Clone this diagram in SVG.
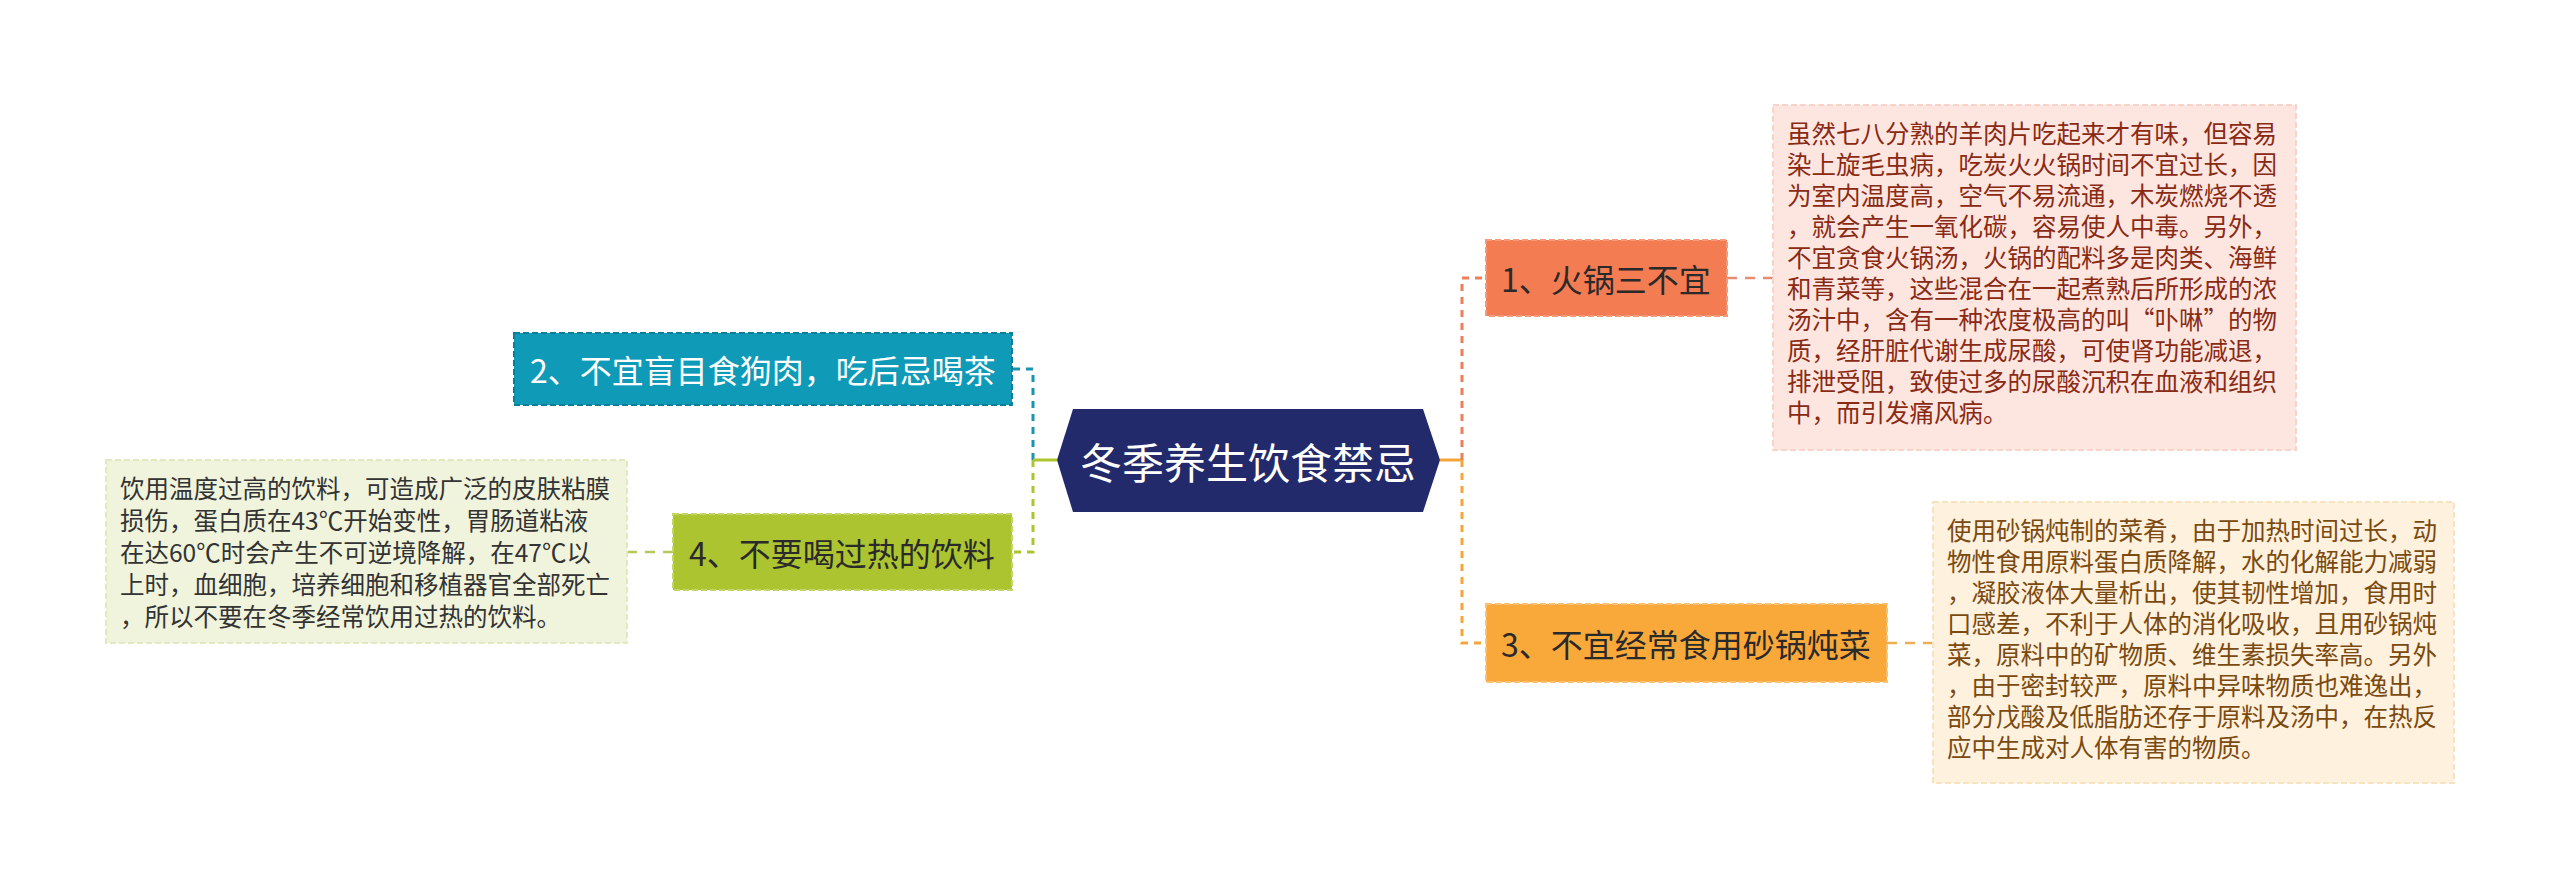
<svg xmlns="http://www.w3.org/2000/svg" width="2560" height="889" viewBox="0 0 2560 889">
<style>
.t{font-family:"Noto Sans CJK SC","Noto Sans",sans-serif}
.lbl{font-size:32px;text-anchor:middle;dominant-baseline:central}
.det{font-size:24.5px}
.c{fill:none;stroke-width:3}
.d{stroke-dasharray:7 6}
.ld{stroke-dasharray:10 8;stroke-width:2.5}
</style>
<rect width="2560" height="889" fill="#ffffff"/>
<g id="connectors">
  <path class="c d" d="M1033,460 V369 H1012" stroke="#1a93b0"/>
  <path class="c" d="M1057,460 H1033" stroke="#abc430"/>
  <path class="c d" d="M1033,460 V552 H1012" stroke="#abc430"/>
  <path class="c ld" d="M673,552 H627" stroke="#b5c95a"/>
  <path class="c" d="M1440,460 H1462" stroke="#f6a53a"/>
  <path class="c d" d="M1462,460 V278 H1486" stroke="#ee7d5a"/>
  <path class="c d" d="M1462,460 V643 H1486" stroke="#f6a53a"/>
  <path class="c ld" d="M1727,278 H1773" stroke="#e48d72"/>
  <path class="c ld" d="M1887,643 H1933" stroke="#f0ae54"/>
</g>
<g id="root">
  <polygon points="1057,460 1073,409 1423,409 1440,460 1423,512 1073,512" fill="#232a6b"/>
  <text class="t" x="1248" y="460" font-size="42" fill="#ffffff" text-anchor="middle" dominant-baseline="central">冬季养生饮食禁忌</text>
</g>
<g id="n2">
  <rect x="514" y="333" width="498" height="72" fill="#0f9ab8" stroke="#0b7f99" stroke-width="2" stroke-dasharray="6 3"/>
  <text class="t lbl" x="763" y="369" fill="#ffffff">2、不宜盲目食狗肉，吃后忌喝茶</text>
</g>
<g id="n4">
  <rect x="673" y="514" width="339" height="76" fill="#abc430" stroke="#c3d46a" stroke-width="2" stroke-dasharray="6 3"/>
  <text class="t lbl" x="842" y="552" fill="#2a2a2a">4、不要喝过热的饮料</text>
</g>
<g id="n4d">
  <rect x="106" y="460" width="521" height="183" fill="#f1f4dc" stroke="#e2e8c0" stroke-width="2" stroke-dasharray="6 3"/>
  <text class="t det" fill="#333333">
    <tspan x="120" y="498">饮用温度过高的饮料，可造成广泛的皮肤粘膜</tspan>
    <tspan x="120" y="530">损伤，蛋白质在43℃开始变性，胃肠道粘液</tspan>
    <tspan x="120" y="562">在达60℃时会产生不可逆境降解，在47℃以</tspan>
    <tspan x="120" y="594">上时，血细胞，培养细胞和移植器官全部死亡</tspan>
    <tspan x="120" y="626">，所以不要在冬季经常饮用过热的饮料。</tspan>
  </text>
</g>
<g id="n1">
  <rect x="1486" y="240" width="241" height="76" fill="#f47c52" stroke="#f59a7a" stroke-width="2" stroke-dasharray="6 3"/>
  <text class="t lbl" x="1606" y="278" fill="#2a2a2a">1、火锅三不宜</text>
</g>
<g id="n1d">
  <rect x="1773" y="105" width="523" height="345" fill="#fde6e0" stroke="#f7d3c8" stroke-width="2" stroke-dasharray="6 3"/>
  <text class="t det" fill="#8a2a14">
    <tspan x="1787" y="143">虽然七八分熟的羊肉片吃起来才有味，但容易</tspan>
    <tspan x="1787" y="174">染上旋毛虫病，吃炭火火锅时间不宜过长，因</tspan>
    <tspan x="1787" y="205">为室内温度高，空气不易流通，木炭燃烧不透</tspan>
    <tspan x="1787" y="236">，就会产生一氧化碳，容易使人中毒。另外，</tspan>
    <tspan x="1787" y="267">不宜贪食火锅汤，火锅的配料多是肉类、海鲜</tspan>
    <tspan x="1787" y="298">和青菜等，这些混合在一起煮熟后所形成的浓</tspan>
    <tspan x="1787" y="329">汤汁中，含有一种浓度极高的叫“卟啉”的物</tspan>
    <tspan x="1787" y="360">质，经肝脏代谢生成尿酸，可使肾功能减退，</tspan>
    <tspan x="1787" y="391">排泄受阻，致使过多的尿酸沉积在血液和组织</tspan>
    <tspan x="1787" y="422">中，而引发痛风病。</tspan>
  </text>
</g>
<g id="n3">
  <rect x="1486" y="604" width="401" height="78" fill="#f9a83a" stroke="#fbc070" stroke-width="2" stroke-dasharray="6 3"/>
  <text class="t lbl" x="1686" y="643" fill="#2a2a2a">3、不宜经常食用砂锅炖菜</text>
</g>
<g id="n3d">
  <rect x="1933" y="502" width="521" height="281" fill="#fef1dd" stroke="#f8e2c0" stroke-width="2" stroke-dasharray="6 3"/>
  <text class="t det" fill="#7a4a10">
    <tspan x="1947" y="540">使用砂锅炖制的菜肴，由于加热时间过长，动</tspan>
    <tspan x="1947" y="571">物性食用原料蛋白质降解，水的化解能力减弱</tspan>
    <tspan x="1947" y="602">，凝胶液体大量析出，使其韧性增加，食用时</tspan>
    <tspan x="1947" y="633">口感差，不利于人体的消化吸收，且用砂锅炖</tspan>
    <tspan x="1947" y="664">菜，原料中的矿物质、维生素损失率高。另外</tspan>
    <tspan x="1947" y="695">，由于密封较严，原料中异味物质也难逸出，</tspan>
    <tspan x="1947" y="726">部分戊酸及低脂肪还存于原料及汤中，在热反</tspan>
    <tspan x="1947" y="757">应中生成对人体有害的物质。</tspan>
  </text>
</g>
</svg>
